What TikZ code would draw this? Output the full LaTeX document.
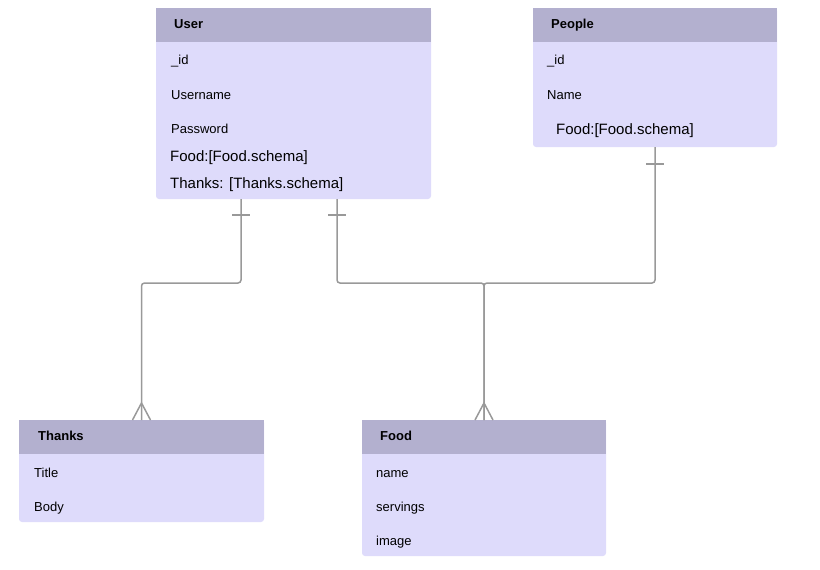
\documentclass[tikz,border=0pt]{standalone}
\usepackage{fontspec}
\setmainfont{Liberation Sans}
\usetikzlibrary{calc}
\definecolor{headc}{RGB}{179,176,207}
\definecolor{bodyc}{RGB}{222,219,251}
\definecolor{linec}{RGB}{153,153,153}
\begin{document}
\begin{tikzpicture}[x=1pt,y=-1pt,
  tbody/.style={draw=none,fill=bodyc,rounded corners=3pt,anchor=north west,inner sep=0pt,outer sep=0pt},
  thead/.style={draw=none,fill=headc,anchor=north west,inner sep=0pt,outer sep=0pt,minimum height=34pt},
  htxt/.style={anchor=base west,inner sep=0pt,font=\fontsize{13}{15}\selectfont\bfseries},
  ftxt/.style={anchor=base west,inner sep=0pt,font=\fontsize{13}{15}\selectfont},
  btxt/.style={anchor=base west,inner sep=0pt,font=\fontsize{15}{18}\selectfont},
  rel/.style={draw=linec,line width=1.5pt,rounded corners=3pt},
  barmark/.style={draw=linec,line width=1.5pt}
]
\useasboundingbox (0,0) rectangle (820,570);

% User
\node[tbody,minimum width=275pt,minimum height=191pt] (user) at (156,8) {};
\node[thead,minimum width=275pt] (userh) at (156,8) {};
\node[htxt] (usert) at (174,28) {User};
\node[ftxt] (u1) at (171,64) {\_id};
\node[ftxt] (u2) at (171,99) {Username};
\node[ftxt] (u3) at (171,133) {Password};
\node[btxt] (u4) at (170,161) {Food:[Food.schema]};
\node[btxt] (u5) at (170,188) {Thanks: [Thanks.schema]};

% People
\node[tbody,minimum width=244pt,minimum height=139pt] (people) at (533,8) {};
\node[thead,minimum width=244pt] (peopleh) at (533,8) {};
\node[htxt] (peoplet) at (551,28) {People};
\node[ftxt] (p1) at (547,64) {\_id};
\node[ftxt] (p2) at (547,99) {Name};
\node[btxt] (p3) at (556,134) {Food:[Food.schema]};

% Thanks
\node[tbody,minimum width=245pt,minimum height=102pt] (thanks) at (19,420) {};
\node[thead,minimum width=245pt] (thanksh) at (19,420) {};
\node[htxt] (thankst) at (38,440) {Thanks};
\node[ftxt] (t1) at (34,477) {Title};
\node[ftxt] (t2) at (34,511) {Body};

% Food
\node[tbody,minimum width=244pt,minimum height=136pt] (food) at (362,420) {};
\node[thead,minimum width=244pt] (foodh) at (362,420) {};
\node[htxt] (foodt) at (380,440) {Food};
\node[ftxt] (f1) at (376,477) {name};
\node[ftxt] (f2) at (376,511) {servings};
\node[ftxt] (f3) at (376,545) {image};

% connector start points
\coordinate (ua) at ([xshift=85pt]user.south west);
\coordinate (ub) at ([xshift=181pt]user.south west);
\coordinate (pa) at ([xshift=122pt]people.south west);

% connectors
\draw[rel] (ua) -- ++(0,84) -| (thanks.north);
\draw[rel] (ub) -- ++(0,84) -| (food.north);
\draw[rel] (pa) -- ++(0,136) -| (food.north);

% one-bars
\draw[barmark] ($(ua)+(-9,16)$) -- ($(ua)+(9,16)$);
\draw[barmark] ($(ub)+(-9,16)$) -- ($(ub)+(9,16)$);
\draw[barmark] ($(pa)+(-9,17)$) -- ($(pa)+(9,17)$);

% crow's feet
\draw[barmark] ($(thanks.north)+(-9,0)$) -- ($(thanks.north)+(0,-17)$) -- ($(thanks.north)+(9,0)$);
\draw[barmark] ($(food.north)+(-9,0)$) -- ($(food.north)+(0,-17)$) -- ($(food.north)+(9,0)$);
\end{tikzpicture}
\end{document}
